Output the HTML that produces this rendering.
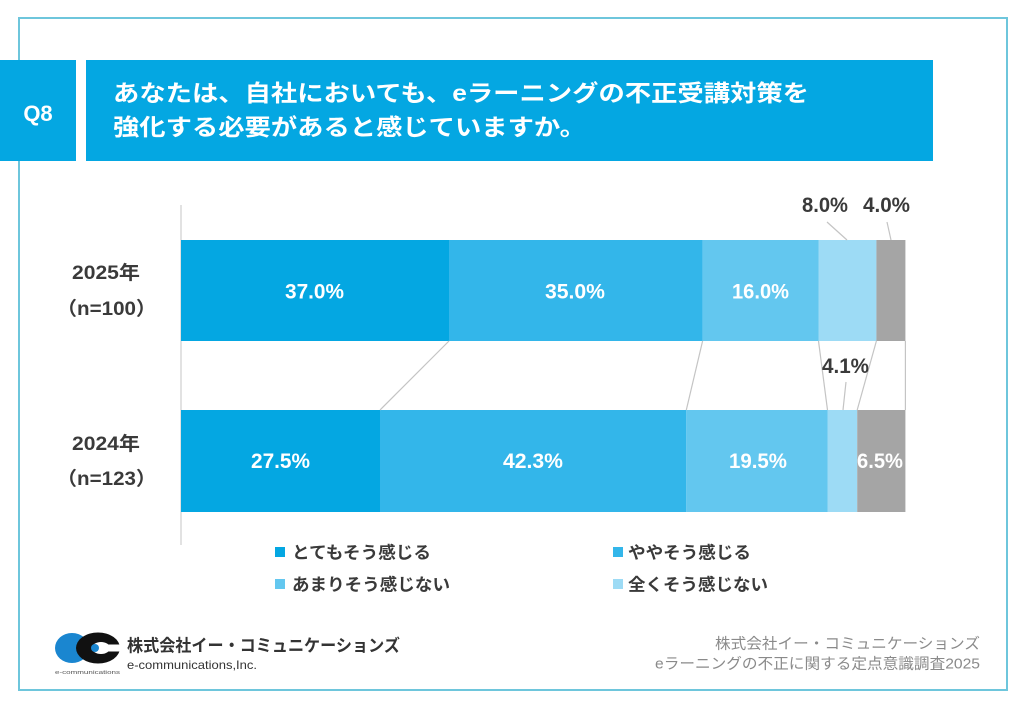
<!DOCTYPE html>
<html><head><meta charset="utf-8"><style>
html,body{margin:0;padding:0;background:#fff;}
svg{display:block;}
text{font-family:"Liberation Sans","Noto Sans CJK JP",sans-serif;}
</style></head><body>
<svg width="1024" height="708" viewBox="0 0 1024 708" xmlns="http://www.w3.org/2000/svg">
<rect width="1024" height="708" fill="#fff"/>
<rect x="19" y="18" width="988" height="672" fill="none" stroke="#6ec6dc" stroke-width="2"/>
<!-- header -->
<rect x="0" y="60" width="76" height="101" fill="#04a7e2"/>
<rect x="86" y="60" width="847" height="101" fill="#04a7e2"/>
<text x="38" y="121" font-size="22" font-weight="bold" fill="#fff" text-anchor="middle">Q8</text>
<text x="113" y="101" font-size="23" font-weight="bold" fill="#fff" textLength="696" lengthAdjust="spacingAndGlyphs">あなたは、自社においても、eラーニングの不正受講対策を</text>
<text x="113" y="135" font-size="23" font-weight="bold" fill="#fff" textLength="473" lengthAdjust="spacingAndGlyphs">強化する必要があると感じていますか。</text>
<!-- axis -->
<line x1="181" y1="205" x2="181" y2="545" stroke="#d9d9d9" stroke-width="1.5"/>
<!-- 2025 bar -->
<rect x="181" y="240" width="268" height="101" fill="#04a7e2"/>
<rect x="449" y="240" width="253.6" height="101" fill="#33b6ea"/>
<rect x="702.6" y="240" width="115.9" height="101" fill="#63c7ef"/>
<rect x="818.5" y="240" width="57.9" height="101" fill="#9ddbf5"/>
<rect x="876.4" y="240" width="29" height="101" fill="#a5a5a5"/>
<!-- 2024 bar -->
<rect x="181" y="410" width="199" height="102" fill="#04a7e2"/>
<rect x="380" y="410" width="306.3" height="102" fill="#33b6ea"/>
<rect x="686.3" y="410" width="141.2" height="102" fill="#63c7ef"/>
<rect x="827.5" y="410" width="29.7" height="102" fill="#9ddbf5"/>
<rect x="857.2" y="410" width="48.2" height="102" fill="#a5a5a5"/>
<!-- connectors -->
<g stroke="#c4c4c4" stroke-width="1.2">
<line x1="449" y1="341" x2="380" y2="410"/>
<line x1="702.6" y1="341" x2="686.3" y2="410"/>
<line x1="818.5" y1="341" x2="827.5" y2="410"/>
<line x1="876.4" y1="341" x2="857.2" y2="410"/>
<line x1="905.4" y1="341" x2="905.4" y2="410"/>
<line x1="827" y1="222" x2="847" y2="240"/>
<line x1="887" y1="222" x2="891" y2="240"/>
<line x1="846" y1="382" x2="843" y2="410"/>
</g>
<!-- bar labels -->
<g font-size="21" font-weight="bold" fill="#fff" text-anchor="middle">
<text x="314.5" y="298.5" textLength="59" lengthAdjust="spacingAndGlyphs">37.0%</text>
<text x="575" y="298.5" textLength="60" lengthAdjust="spacingAndGlyphs">35.0%</text>
<text x="760.5" y="298.5" textLength="57" lengthAdjust="spacingAndGlyphs">16.0%</text>
<text x="280.5" y="468" textLength="59" lengthAdjust="spacingAndGlyphs">27.5%</text>
<text x="533" y="468" textLength="60" lengthAdjust="spacingAndGlyphs">42.3%</text>
<text x="758" y="468" textLength="58" lengthAdjust="spacingAndGlyphs">19.5%</text>
<text x="880" y="468" textLength="46" lengthAdjust="spacingAndGlyphs">6.5%</text>
</g>
<g font-size="21" font-weight="bold" fill="#3a3a3a" text-anchor="middle">
<text x="825" y="212" textLength="46" lengthAdjust="spacingAndGlyphs">8.0%</text>
<text x="886.5" y="212" textLength="47" lengthAdjust="spacingAndGlyphs">4.0%</text>
<text x="845.5" y="373" textLength="47" lengthAdjust="spacingAndGlyphs">4.1%</text>
</g>
<!-- y labels -->
<g font-size="19" font-weight="bold" fill="#3a3a3a" text-anchor="middle">
<text x="106" y="279" textLength="68" lengthAdjust="spacingAndGlyphs">2025年</text>
<text x="106.5" y="315" textLength="100" lengthAdjust="spacingAndGlyphs">（n=100）</text>
<text x="106" y="450" textLength="68" lengthAdjust="spacingAndGlyphs">2024年</text>
<text x="106.5" y="485" textLength="100" lengthAdjust="spacingAndGlyphs">（n=123）</text>
</g>
<!-- legend -->
<rect x="275" y="547" width="10" height="10" fill="#04a7e2"/>
<rect x="613" y="547" width="10" height="10" fill="#33b6ea"/>
<rect x="275" y="579" width="10" height="10" fill="#63c7ef"/>
<rect x="613" y="579" width="10" height="10" fill="#9ddbf5"/>
<g font-size="17" font-weight="bold" fill="#3a3a3a">
<text x="292" y="558.5" textLength="139" lengthAdjust="spacingAndGlyphs">とてもそう感じる</text>
<text x="628" y="558.5" textLength="123" lengthAdjust="spacingAndGlyphs">ややそう感じる</text>
<text x="292" y="590.5" textLength="158" lengthAdjust="spacingAndGlyphs">あまりそう感じない</text>
<text x="628" y="590.5" textLength="140" lengthAdjust="spacingAndGlyphs">全くそう感じない</text>
</g>
<!-- logo -->
<ellipse cx="72" cy="648" rx="17" ry="15" fill="#1a86d0"/>
<ellipse cx="98" cy="648" rx="22" ry="15.5" fill="#111"/>
<ellipse cx="101" cy="648" rx="9" ry="6" fill="#fff"/>
<rect x="104" y="644.5" width="17" height="7" fill="#fff"/>
<ellipse cx="95" cy="648" rx="4" ry="4" fill="#1a86d0"/>
<text x="55" y="674" font-size="5" fill="#555" textLength="65" lengthAdjust="spacingAndGlyphs">e-communications</text>
<text x="127" y="651.5" font-size="17" font-weight="bold" fill="#333" textLength="273" lengthAdjust="spacingAndGlyphs">株式会社イー・コミュニケーションズ</text>
<text x="127" y="669" font-size="12" fill="#333" textLength="130" lengthAdjust="spacingAndGlyphs">e-communications,Inc.</text>
<!-- footer right -->
<g font-size="15" fill="#8a8a8a" text-anchor="end">
<text x="980" y="648.5" textLength="265" lengthAdjust="spacingAndGlyphs">株式会社イー・コミュニケーションズ</text>
<text x="980" y="668.5" textLength="325" lengthAdjust="spacingAndGlyphs">eラーニングの不正に関する定点意識調査2025</text>
</g>
</svg>
</body></html>
